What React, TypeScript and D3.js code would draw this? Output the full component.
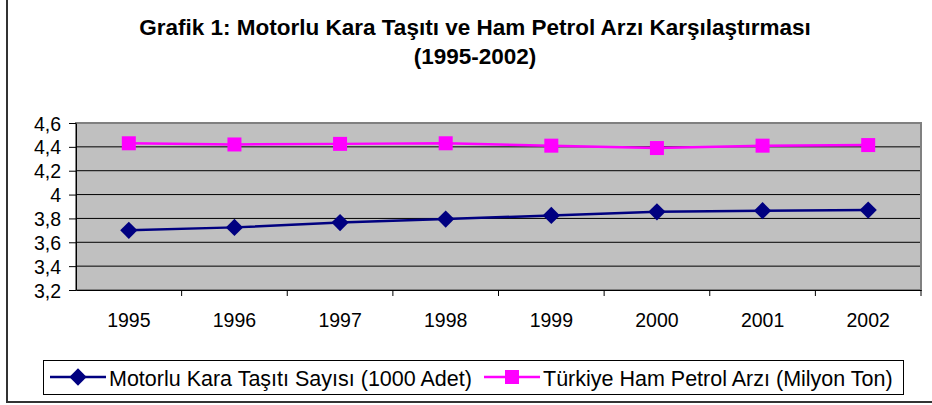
import React, { useRef, useEffect } from 'react';
import * as d3 from 'd3';

const years = ['1995', '1996', '1997', '1998', '1999', '2000', '2001', '2002'];
const vehicles = [3.70, 3.725, 3.765, 3.795, 3.825, 3.855, 3.865, 3.87];
const petrol = [4.43, 4.42, 4.425, 4.43, 4.41, 4.39, 4.41, 4.415];
const yTicks = [3.2, 3.4, 3.6, 3.8, 4.0, 4.2, 4.4, 4.6];

const App: React.FC = () => {
  const ref = useRef<SVGSVGElement>(null);

  useEffect(() => {
    const svg = d3.select(ref.current);
    svg.selectAll('*').remove();
    const font = 'Liberation Sans, Arial, sans-serif';

    // outer chart border (top and right run off the picture)
    svg.append('rect').attr('x', 7).attr('y', -5).attr('width', 940).attr('height', 407)
      .attr('fill', 'white').attr('stroke', '#333').attr('stroke-width', 2);

    // title
    const title = svg.append('text').attr('text-anchor', 'middle').attr('font-family', font)
      .attr('font-weight', 'bold').attr('font-size', 22.5).attr('fill', 'black');
    title.append('tspan').attr('x', 475).attr('y', 35).text('Grafik 1: Motorlu Kara Taşıtı ve Ham Petrol Arzı Karşılaştırması');
    title.append('tspan').attr('x', 475).attr('y', 64).text('(1995-2002)');

    const x = d3.scaleBand().domain(years).range([76, 921]);
    const y = d3.scaleLinear().domain([3.2, 4.6]).range([290, 123]);

    // plot area
    svg.append('rect').attr('x', 76).attr('y', 123).attr('width', 845).attr('height', 167)
      .attr('fill', '#c0c0c0');

    svg.append('g').selectAll('line').data(yTicks.slice(1, -1)).join('line')
      .attr('x1', 76).attr('x2', 921).attr('y1', d => y(d)).attr('y2', d => y(d))
      .attr('stroke', 'black').attr('stroke-width', 1);

    svg.append('rect').attr('x', 76).attr('y', 123).attr('width', 845).attr('height', 167)
      .attr('fill', 'none').attr('stroke', '#808080').attr('stroke-width', 2);

    // y axis
    const yAxis = svg.append('g').attr('transform', 'translate(76,0)')
      .call(d3.axisLeft(y).tickValues(yTicks).tickSize(7).tickSizeOuter(0)
        .tickFormat(d => String(+d).replace('.', ',')));
    yAxis.select('.domain').attr('stroke', 'black');
    yAxis.selectAll('text').attr('font-family', font).attr('font-size', 19.5).attr('fill', 'black')
      .attr('x', -15).attr('dy', '0.36em');

    // x axis
    const xAxis = svg.append('g').attr('transform', 'translate(0,290)')
      .call(d3.axisBottom(x).tickSize(0).tickSizeOuter(0));
    xAxis.select('.domain').attr('stroke', 'black');
    xAxis.selectAll('text').attr('font-family', font).attr('font-size', 19.5).attr('fill', 'black')
      .attr('y', 37).attr('dy', 0);
    xAxis.selectAll('.band-tick').data(years.slice(1).concat(['end'])).join('line')
      .attr('x1', (_, i) => 76 + x.step() * (i + 1)).attr('x2', (_, i) => 76 + x.step() * (i + 1))
      .attr('y1', 0).attr('y2', 6).attr('stroke', 'black');

    const cx = (i: number) => (x(years[i]) as number) + x.bandwidth() / 2;
    const line = d3.line<number>().x((_, i) => cx(i)).y(d => y(d));

    svg.append('path').datum(vehicles).attr('fill', 'none').attr('stroke', '#000080')
      .attr('stroke-width', 2.5).attr('d', line);
    svg.append('path').datum(petrol).attr('fill', 'none').attr('stroke', '#ff00ff')
      .attr('stroke-width', 2.5).attr('d', line);

    const diamond = d3.symbol().type(d3.symbolDiamond2).size(190);
    svg.append('g').selectAll('path').data(vehicles).join('path')
      .attr('transform', (d, i) => `translate(${cx(i)},${y(d)})`)
      .attr('d', diamond()).attr('fill', '#000080');
    svg.append('g').selectAll('rect').data(petrol).join('rect')
      .attr('x', (_, i) => cx(i) - 7).attr('y', d => y(d) - 7)
      .attr('width', 14).attr('height', 14).attr('fill', '#ff00ff');

    // legend
    const lg = svg.append('g');
    lg.append('rect').attr('x', 43.5).attr('y', 360.5).attr('width', 860).attr('height', 34)
      .attr('fill', 'white').attr('stroke', 'black');
    const items = [
      { label: 'Motorlu Kara Taşıtı Sayısı (1000 Adet)', color: '#000080', x0: 50, shape: 'd' },
      { label: 'Türkiye Ham Petrol Arzı (Milyon Ton)', color: '#ff00ff', x0: 484, shape: 's' },
    ];
    items.forEach(it => {
      lg.append('line').attr('x1', it.x0).attr('x2', it.x0 + 56).attr('y1', 377).attr('y2', 377)
        .attr('stroke', it.color).attr('stroke-width', 2.5);
      if (it.shape === 'd') {
        lg.append('path').attr('transform', `translate(${it.x0 + 28},377)`).attr('d', diamond()).attr('fill', it.color);
      } else {
        lg.append('rect').attr('x', it.x0 + 21).attr('y', 370).attr('width', 14).attr('height', 14).attr('fill', it.color);
      }
      lg.append('text').attr('x', it.x0 + 59).attr('y', 386).attr('font-family', font).attr('font-size', 21.5)
        .attr('fill', 'black').text(it.label);
    });
  }, []);

  return (
    <svg ref={ref} width={932} height={405} style={{ position: 'absolute', left: 0, top: 0 }}></svg>
  );
};

export default App;
